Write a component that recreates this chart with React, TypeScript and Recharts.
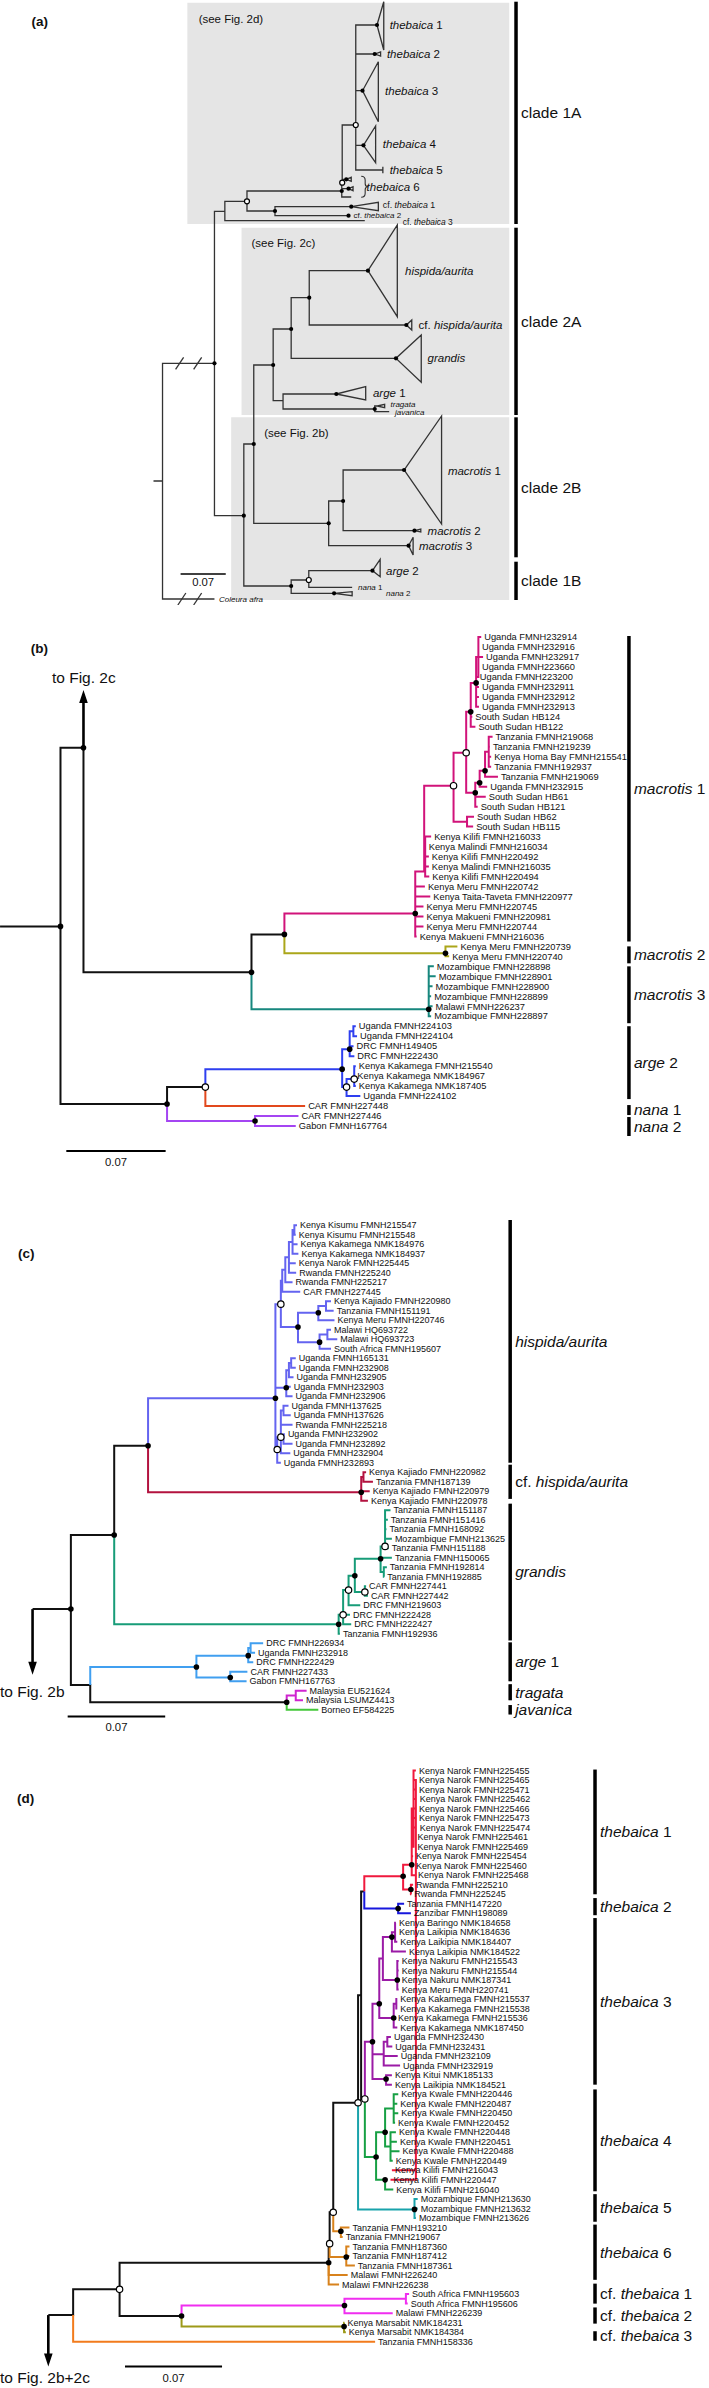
import React from "react";
import { ScatterChart, Scatter, XAxis, YAxis, ReferenceLine, ReferenceArea } from "recharts";

type NodeRow = [string, string, number, number | null, string];
type CladeRow = [string, string, string, number, number];

const FONT = '"Liberation Sans", Arial, Helvetica, sans-serif';

// ---------------- (a) overview ----------------
const aNodes: NodeRow[] = [
  ["s0", "", -0.014, 48.1, ""],
  ["r", "s0", 0, 48.1, ""],
  ["I", "r", 0.0805, 36.33, "f"],
  ["A1", "I", 0.0966, 21.13, ""],
  ["O547", "A1", 0.1309, 20.13, "o"],
  ["TH", "O547", 0.2778, 19.1, "f"],
  ["O758", "TH", 0.2785, 18.27, "o"],
  ["O788", "O758", 0.2995, 12.5, "o"],
  ["C609", "O547", 0.1743, 21.1, "f"],
  ["N540", "I", 0.126, 51.57, "f"],
  ["N562", "N540", 0.1414, 44.4, "f"],
  ["N605", "N562", 0.1715, 36.5, "f"],
  ["N645", "N605", 0.1994, 32.9, "f"],
  ["N685", "N645", 0.2274, 29.77, "f"],
  ["N627", "N605", 0.1868, 40.07, ""],
  ["TJ", "N627", 0.3289, 40.9, "f"],
  ["N728", "N562", 0.2575, 52.33, "f"],
  ["N760", "N728", 0.2799, 50.1, "f"],
  ["N645b", "N540", 0.1994, 58.6, "f"],
  ["O684", "N645b", 0.2267, 58.0, "o"],
];

// collapsed clades: name, parent, node x, node y, tip x, top, bottom, marker
const aClades: [string, string, number, number, number, number, number, string][] = [
  ["thebaica 1", "O788", 0.3324, 2.5, 0.3429, 0.17, 5.0, "f"],
  ["thebaica 2", "O788", 0.3289, 5.4, 0.338, 5.2, 5.6, "f"],
  ["thebaica 3", "O788", 0.31, 9.07, 0.3345, 6.17, 12.17, "f"],
  ["thebaica 4", "O788", 0.3114, 14.53, 0.3303, 12.6, 16.27, "f"],
  ["thebaica 5", "O788", 0.3415, 17.0, 0.3415, 16.67, 17.33, ""],
  ["thebaica 6a", "O758", 0.2848, 17.93, 0.2925, 17.73, 18.13, "f"],
  ["thebaica 6b", "TH", 0.2883, 18.87, 0.2953, 18.67, 19.07, "f"],
  ["thebaica 6c", "TH", 0.2925, 19.7, 0.2925, 19.7, 19.7, ""],
  ["cf. thebaica 1", "C609", 0.2925, 20.67, 0.3345, 20.23, 21.07, "f"],
  ["cf. thebaica 2", "C609", 0.2883, 21.57, 0.2883, 21.57, 21.57, "f"],
  ["cf. thebaica 3", "A1", 0.3135, 22.07, 0.3135, 22.07, 22.07, ""],
  ["hispida/aurita", "N685", 0.3184, 27.07, 0.3639, 22.5, 31.67, "f"],
  ["cf. hispida/aurita", "N685", 0.3779, 32.5, 0.3863, 32.0, 33.0, "f"],
  ["grandis", "N645", 0.3618, 35.83, 0.401, 33.5, 38.23, "f"],
  ["arge 1", "N627", 0.2694, 39.4, 0.3149, 38.67, 40.0, "f"],
  ["tragata", "TJ", 0.3329, 40.6, 0.3443, 40.43, 40.77, ""],
  ["javanica", "TJ", 0.3513, 41.17, 0.3513, 41.17, 41.17, ""],
  ["macrotis 1", "N760", 0.3744, 47.0, 0.4325, 41.6, 52.4, "f"],
  ["macrotis 2", "N760", 0.3905, 53.07, 0.4003, 52.9, 53.2, "f"],
  ["macrotis 3", "N728", 0.3814, 54.57, 0.3884, 53.73, 55.5, "f"],
  ["arge 2", "O684", 0.3254, 57.07, 0.3373, 55.93, 57.67, "f"],
  ["nana 1", "O684", 0.2939, 58.73, 0.2939, 58.73, 58.73, ""],
  ["nana 2", "N645b", 0.2659, 59.33, 0.2939, 59.17, 59.57, "f"],
  ["Coleura afra", "r", 0.0805, 59.9, 0.0805, 59.9, 59.9, ""],
];

const aGroups: [string, number, number][] = [
  ["clade 1A", 0.17, 22.4],
  ["clade 2A", 22.77, 41.5],
  ["clade 2B", 41.73, 55.73],
  ["clade 1B", 56.17, 60.0],
];

const aBoxes: [number, number, number, number][] = [
  [0.0385, 0.5374, 0.27, 22.4],
  [0.1225, 0.5374, 22.77, 41.5],
  [0.1064, 0.5374, 41.73, 60.0],
];

// ---------------- (b) macrotis / arge 2 / nana ----------------
const bLeafNames = [
  "Uganda FMNH232914", "Uganda FMNH232916", "Uganda FMNH232917", "Uganda FMNH223660", "Uganda FMNH223200",
  "Uganda FMNH232911", "Uganda FMNH232912", "Uganda FMNH232913", "South Sudan HB124", "South Sudan HB122",
  "Tanzania FMNH219068", "Tanzania FMNH219239", "Kenya Homa Bay FMNH215541", "Tanzania FMNH192937", "Tanzania FMNH219069",
  "Uganda FMNH232915", "South Sudan HB61", "South Sudan HB121", "South Sudan HB62", "South Sudan HB115",
  "Kenya Kilifi FMNH216033", "Kenya Malindi FMNH216034", "Kenya Kilifi FMNH220492", "Kenya Malindi FMNH216035",
  "Kenya Kilifi FMNH220494", "Kenya Meru FMNH220742", "Kenya Taita-Taveta FMNH220977", "Kenya Meru FMNH220745",
  "Kenya Makueni FMNH220981", "Kenya Meru FMNH220744", "Kenya Makueni FMNH216036",
  "Kenya Meru FMNH220739", "Kenya Meru FMNH220740",
  "Mozambique FMNH228898", "Mozambique FMNH228901", "Mozambique FMNH228900", "Mozambique FMNH228899",
  "Malawi FMNH226237", "Mozambique FMNH228897",
  "Uganda FMNH224103", "Uganda FMNH224104", "DRC FMNH149405", "DRC FMNH222430", "Kenya Kakamega FMNH215540",
  "Kenya Kakamega NMK184967", "Kenya Kakamega NMK187405", "Uganda FMNH224102",
  "CAR FMNH227448", "CAR FMNH227446", "Gabon FMNH167764",
];
const bLeafTips = [
  0.2965, 0.2949, 0.2978, 0.2949, 0.2934, 0.2949, 0.2949, 0.2949, 0.2902, 0.2924,
  0.3045, 0.3026, 0.3035, 0.3035, 0.3083, 0.3007, 0.2997, 0.294, 0.2914, 0.2908,
  0.2612, 0.2574, 0.2596, 0.2596, 0.2599, 0.2568, 0.2606, 0.2558, 0.2558, 0.2558, 0.251,
  0.2797, 0.2739,
  0.2631, 0.2644, 0.2622, 0.2612, 0.2622, 0.2612,
  0.2081, 0.209, 0.2065, 0.2071, 0.2081, 0.2071, 0.2081, 0.2113,
  0.1724, 0.1677, 0.1658,
];
const bLeafParents = [
  "V1", "V1", "V1", "V1", "V1", "V", "V", "V", "U", "U",
  "T3", "T3", "T3", "T3", "T2", "T1", "T", "T", "Q2", "Q2",
  "B1", "B1", "B1", "B1", "B1", "mac1", "mac1", "mac1", "mac1", "mac1", "mac1",
  "mac2", "mac2",
  "mac3", "mac3", "mac3", "mac3", "mac3", "mac3",
  "a2A1", "a2A1", "a2A", "a2A", "a2C", "a2C", "a2C", "a2B",
  "N1", "nana2", "nana2",
];
const bNodes: NodeRow[] = [
  ["s0", "", -0.0426, 29.0, ""],
  ["r", "s0", 0, 29.0, "f"],
  ["A", "r", 0.0162, 11.1, "f"],
  ["M", "A", 0.1346, 33.6, "f"],
  ["M1", "M", 0.1578, 29.8, "f"],
  ["mac1", "M1", 0.25, 27.7, "f"],
  ["A1", "mac1", 0.2563, 23.5, ""],
  ["Q", "A1", 0.277, 14.9, "o"],
  ["Q1", "Q", 0.2859, 11.6, "o"],
  ["U", "Q1", 0.2891, 7.5, "f"],
  ["V", "U", 0.2929, 4.6, "f"],
  ["V1", "V", 0.2945, null, ""],
  ["T", "Q1", 0.2923, 15.6, "f"],
  ["T1", "T", 0.2954, 14.6, "f"],
  ["T2", "T1", 0.2992, 13.4, "f"],
  ["T3", "T2", 0.3018, null, ""],
  ["Q2", "Q", 0.2865, null, ""],
  ["B1", "A1", 0.257, null, ""],
  ["mac2", "M1", 0.2713, 31.7, "f"],
  ["mac3", "M", 0.2595, 37.3, "f"],
  ["N", "r", 0.0751, 46.8, "f"],
  ["N1", "N", 0.1021, 45.1, "o"],
  ["arg2", "N1", 0.1985, 43.3, "f"],
  ["a2A", "arg2", 0.2038, 41.3, "f"],
  ["a2A1", "a2A", 0.2064, null, ""],
  ["a2B", "arg2", 0.2016, 45.1, "o"],
  ["a2C", "a2B", 0.207, 44.3, "o"],
  ["nana2", "N", 0.1371, 48.5, "f"],
];
const bColors: Record<string, string> = {
  mac1: "#d1137a", mac2: "#aba61a", mac3: "#17877e", arg2: "#2e3ff0", L47: "#e2481d", nana2: "#a445f2",
};
const bClades: CladeRow[] = [
  ["", "macrotis", " 1", -0.1, 30.5],
  ["", "macrotis", " 2", 31.0, 32.7],
  ["", "macrotis", " 3", 33.0, 38.7],
  ["", "arge", " 2", 39.0, 46.3],
  ["", "nana", " 1", 46.9, 47.9],
  ["", "nana", " 2", 48.1, 50.0],
];

// ---------------- (c) hispida / grandis / arge 1 ----------------
const cLeafNames = [
  "Kenya Kisumu FMNH215547", "Kenya Kisumu FMNH215548", "Kenya Kakamega NMK184976", "Kenya Kakamega NMK184937",
  "Kenya Narok FMNH225445", "Rwanda FMNH225240", "Rwanda FMNH225217", "CAR FMNH227445",
  "Kenya Kajiado FMNH220980", "Tanzania FMNH151191", "Kenya Meru FMNH220746", "Malawi HQ693722", "Malawi HQ693723",
  "South Africa FMNH195607",
  "Uganda FMNH165131", "Uganda FMNH232908", "Uganda FMNH232905", "Uganda FMNH232903", "Uganda FMNH232906",
  "Uganda FMNH137625", "Uganda FMNH137626", "Rwanda FMNH225218", "Uganda FMNH232902", "Uganda FMNH232892",
  "Uganda FMNH232904", "Uganda FMNH232893",
  "Kenya Kajiado FMNH220982", "Tanzania FMNH187139", "Kenya Kajiado FMNH220979", "Kenya Kajiado FMNH220978",
  "Tanzania FMNH151187", "Tanzania FMNH151416", "Tanzania FMNH168092", "Mozambique FMNH213625", "Tanzania FMNH151188",
  "Tanzania FMNH150065", "Tanzania FMNH192814", "Tanzania FMNH192885", "CAR FMNH227441", "CAR FMNH227442",
  "DRC FMNH219603", "DRC FMNH222428", "DRC FMNH222427", "Tanzania FMNH192936",
  "DRC FMNH226934", "Uganda FMNH232918", "DRC FMNH222429", "CAR FMNH227433", "Gabon FMNH167763",
  "Malaysia EU521624", "Malaysia LSUMZ4413", "Borneo EF584225",
];
const cLeafTips = [
  0.1623, 0.1614, 0.1627, 0.1633, 0.1614, 0.1617, 0.1591, 0.1646,
  0.1867, 0.1886, 0.1892, 0.1867, 0.1912, 0.1867,
  0.1614, 0.1614, 0.1598, 0.1578, 0.1591, 0.1562, 0.1578, 0.1591, 0.1536, 0.1591, 0.1575, 0.1507,
  0.2119, 0.2168, 0.2145, 0.2132,
  0.2294, 0.2275, 0.2265, 0.2304, 0.2281, 0.2304, 0.2268, 0.2249, 0.2119, 0.2132, 0.2077, 0.2003, 0.2012, 0.1931,
  0.138, 0.1322, 0.1309, 0.1267, 0.1261,
  0.1692, 0.1666, 0.1776,
];
const cLeafParents = [
  "K4", "K4", "K3", "K3", "K2", "K2", "K1", "K",
  "N1a", "N1a", "N1", "N2a", "N2a", "N2",
  "Ug2", "Ug2", "Ug1", "Ug", "Ug", "O3a", "O3a", "O3", "O3b", "O3b", "O3", "O2",
  "HC1", "HC1", "HC", "HC",
  "O853", "O853", "O853", "O853", "O853", "F843", "N850", "N850", "O808", "O808", "O772", "O760", "O760", "GR",
  "A1a1", "A1a1", "A1a", "A1b", "A1b",
  "TR", "TR", "TJ",
];
const cNodes: NodeRow[] = [
  ["s0", "", -0.0275, 40.4, ""],
  ["r", "s0", 0, 40.4, "f"],
  ["G", "r", 0.0311, 32.6, "f"],
  ["H", "G", 0.0554, 23.2, "f"],
  ["HA", "H", 0.1468, 18.2, "f"],
  ["O1", "HA", 0.1507, 8.3, "o"],
  ["K", "O1", 0.1517, null, ""],
  ["K1", "K", 0.1539, null, ""],
  ["K2", "K1", 0.1565, null, ""],
  ["K3", "K2", 0.1591, null, ""],
  ["K4", "K3", 0.1604, null, ""],
  ["Nn", "O1", 0.163, 10.7, "f"],
  ["N1", "Nn", 0.1776, 9.2, "f"],
  ["N1a", "N1", 0.1831, null, ""],
  ["N2", "Nn", 0.1785, 12.3, "f"],
  ["N2a", "N2", 0.1841, null, ""],
  ["Ug", "HA", 0.1546, 17.1, "f"],
  ["Ug1", "Ug", 0.1565, null, ""],
  ["Ug2", "Ug1", 0.1581, null, ""],
  ["O2", "HA", 0.1481, 23.6, "o"],
  ["O3", "O2", 0.1507, 22.3, "o"],
  ["O3a", "O3", 0.1526, null, ""],
  ["O3b", "O3", 0.1526, null, ""],
  ["HC", "H", 0.2084, 28.1, "f"],
  ["HC1", "HC", 0.21, null, ""],
  ["GR", "G", 0.1922, 42.0, "f"],
  ["O760", "GR", 0.1954, 41.0, "o"],
  ["O772", "O760", 0.1993, 38.4, "o"],
  ["F786", "O772", 0.2038, 36.9, "f"],
  ["F843", "F786", 0.2223, 35.1, "f"],
  ["O853", "F843", 0.2255, 33.8, "o"],
  ["N850", "F843", 0.2246, null, ""],
  ["O808", "F786", 0.211, 38.6, "o"],
  ["S", "r", 0.0139, 48.4, ""],
  ["A1c", "S", 0.0901, 46.5, "f"],
  ["A1a", "A1c", 0.1273, 45.3, "f"],
  ["A1a1", "A1a", 0.129, null, ""],
  ["A1b", "A1c", 0.1144, 47.6, "f"],
  ["TJ", "S", 0.1549, 50.2, "f"],
  ["TR", "TJ", 0.1614, null, ""],
];
const cColors: Record<string, string> = {
  HA: "#6464f0", HC: "#b3123f", GR: "#179c78", A1c: "#409ff0", TR: "#d024d0", L51: "#44c83a",
};
const cClades: CladeRow[] = [
  ["", "hispida/aurita", "", -0.56, 24.99],
  ["cf. ", "hispida/aurita", "", 25.2, 28.8],
  ["", "grandis", "", 29.3, 43.7],
  ["", "arge", " 1", 43.9, 48.0],
  ["", "tragata", "", 48.3, 50.0],
  ["", "javanica", "", 50.5, 51.5],
];

// ---------------- (d) thebaica ----------------
const dLeafNames = [
  "Kenya Narok FMNH225455", "Kenya Narok FMNH225465", "Kenya Narok FMNH225471", "Kenya Narok FMNH225462",
  "Kenya Narok FMNH225466", "Kenya Narok FMNH225473", "Kenya Narok FMNH225474", "Kenya Narok FMNH225461",
  "Kenya Narok FMNH225469", "Kenya Narok FMNH225454", "Kenya Narok FMNH225460", "Kenya Narok FMNH225468",
  "Rwanda FMNH225210", "Rwanda FMNH225245",
  "Tanzania FMNH147220", "Zanzibar FMNH198089",
  "Kenya Baringo NMK184658", "Kenya Laikipia NMK184636", "Kenya Laikipia NMK184407", "Kenya Laikipia NMK184522",
  "Kenya Nakuru FMNH215543", "Kenya Nakuru FMNH215544", "Kenya Nakuru NMK187341", "Kenya Meru FMNH220741",
  "Kenya Kakamega FMNH215537", "Kenya Kakamega FMNH215538", "Kenya Kakamega FMNH215536", "Kenya Kakamega NMK187450",
  "Uganda FMNH232430", "Uganda FMNH232431", "Uganda FMNH232109", "Uganda FMNH232919",
  "Kenya Kitui NMK185133", "Kenya Laikipia NMK184521",
  "Kenya Kwale FMNH220446", "Kenya Kwale FMNH220487", "Kenya Kwale FMNH220450", "Kenya Kwale FMNH220452",
  "Kenya Kwale FMNH220448", "Kenya Kwale FMNH220451", "Kenya Kwale FMNH220488", "Kenya Kwale FMNH220449",
  "Kenya Kilifi FMNH216043", "Kenya Kilifi FMNH220447", "Kenya Kilifi FMNH216040",
  "Mozambique FMNH213630", "Mozambique FMNH213632", "Mozambique FMNH213626",
  "Tanzania FMNH193210", "Tanzania FMNH219067", "Tanzania FMNH187360", "Tanzania FMNH187412", "Tanzania FMNH187361",
  "Malawi FMNH226240", "Malawi FMNH226238",
  "South Africa FMNH195603", "South Africa FMNH195606", "Malawi FMNH226239",
  "Kenya Marsabit NMK184231", "Kenya Marsabit NMK184384",
  "Tanzania FMNH158336",
];
const dLeafTips = [
  0.2472, 0.2472, 0.2472, 0.2478, 0.2472, 0.2472, 0.2478, 0.2462, 0.2462, 0.2452, 0.2452, 0.2465, 0.2452, 0.2439,
  0.2387, 0.2436,
  0.2328, 0.2328, 0.2338, 0.24, 0.2348, 0.2348, 0.2348, 0.2348, 0.2338, 0.2338, 0.2322, 0.2338,
  0.2292, 0.2302, 0.2341, 0.2358, 0.2299, 0.2299,
  0.2345, 0.2338, 0.2345, 0.2322, 0.2328, 0.2335, 0.2354, 0.2305, 0.2299, 0.2289, 0.2309,
  0.2485, 0.2485, 0.2472,
  0.1993, 0.1944, 0.1993, 0.1993, 0.2032, 0.198, 0.1918,
  0.2423, 0.2413, 0.2305,
  0.1957, 0.1967,
  0.2178,
];
const dLeafParents = [
  "th1b", "th1b", "th1b", "th1b", "th1b", "th1b", "th1b", "th1b", "th1b", "th1a", "th1a", "th1a", "th1c", "th1c",
  "th2", "th2",
  "N875", "N875", "N875", "N868", "N880", "N880", "N880", "N880", "N878", "N878", "N872", "N872",
  "Ug1", "Ug1", "Ug", "Ug", "D855", "D855",
  "G1", "G1", "G1", "G1", "G2", "G2", "G2", "G2", "L1", "L1", "L853",
  "th5", "th5", "th5",
  "n755", "n755", "n767", "n767", "n767", "N1", "N1",
  "cf1a", "cf1a", "cf1",
  "cf2", "cf2",
  "r",
];
const dNodes: NodeRow[] = [
  ["s0", "", -0.0179, 57.2, ""],
  ["r", "s0", 0, 57.2, ""],
  ["T", "r", 0.0335, 54.5, "o"],
  ["N1", "T", 0.1843, 51.7, "f"],
  ["O730", "N1", 0.185, 49.7, "o"],
  ["O738", "O730", 0.1876, 46.4, "o"],
  ["O793", "O738", 0.2055, 34.9, "o"],
  ["P800", "O793", 0.2077, null, ""],
  ["T12", "P800", 0.21, 12.7, ""],
  ["th1", "T12", 0.238, 11.1, "f"],
  ["th1a", "th1", 0.2442, 9.9, "f"],
  ["th1b", "th1a", 0.2455, null, ""],
  ["th1c", "th1", 0.2436, 12.5, "f"],
  ["th2", "T12", 0.2344, 14.5, "f"],
  ["O808", "P800", 0.2104, 34.5, "o"],
  ["A825", "O808", 0.2159, 28.5, "f"],
  ["B840", "A825", 0.2208, 24.5, "f"],
  ["E848", "B840", 0.2234, null, ""],
  ["N868", "E848", 0.2299, 17.5, "f"],
  ["N875", "N868", 0.2322, null, ""],
  ["N880", "E848", 0.2338, 22.0, "f"],
  ["N872", "B840", 0.2312, 26.0, "f"],
  ["N878", "N872", 0.2331, null, ""],
  ["Ug", "A825", 0.224, 29.8, ""],
  ["Ug1", "Ug", 0.2266, null, ""],
  ["D855", "A825", 0.2257, 32.4, "f"],
  ["th4", "O808", 0.2185, 40.6, "f"],
  ["K853", "th4", 0.225, 38.0, "f"],
  ["G1", "K853", 0.2312, null, ""],
  ["G2", "K853", 0.2289, null, ""],
  ["L853", "th4", 0.225, 43.0, "f"],
  ["L1", "L853", 0.2279, null, ""],
  ["th5", "O793", 0.2462, 46.1, "f"],
  ["n755", "O738", 0.1931, 48.4, "f"],
  ["n767", "O730", 0.197, 51.1, "f"],
  ["CF", "T", 0.0782, 57.3, "f"],
  ["cf1", "CF", 0.1957, 56.2, "f"],
  ["cf1a", "cf1", 0.24, null, ""],
  ["cf2", "CF", 0.1954, 58.4, "f"],
];
const dColors: Record<string, string> = {
  th1: "#f0193d", th2: "#1717dd", A825: "#9b1ba6", th4: "#17a044", th5: "#1aa3ab",
  n755: "#d8821c", n767: "#d8821c", L53: "#d8821c", L54: "#d8821c",
  cf1: "#f02ef0", cf2: "#9d9a19", L60: "#f27b1c",
};
const dClades: CladeRow[] = [
  ["", "thebaica", " 1", -0.1, 13.0],
  ["", "thebaica", " 2", 13.4, 15.2],
  ["", "thebaica", " 3", 15.5, 33.0],
  ["", "thebaica", " 4", 33.5, 44.2],
  ["", "thebaica", " 5", 44.5, 47.4],
  ["", "thebaica", " 6", 47.7, 53.5],
  ["cf. ", "thebaica", " 1", 53.9, 56.0],
  ["cf. ", "thebaica", " 2", 56.4, 58.1],
  ["cf. ", "thebaica", " 3", 58.9, 59.9],
];

// ---------------- helpers ----------------
type TNode = { id: string; parent: string; x: number; y: number; mark: string; kids: string[] };
type P = { x: number; y: number };

function buildTree(nodes: NodeRow[], tips: number[], parents: string[]) {
  const m: Record<string, TNode> = {};
  nodes.forEach(([id, parent, x, y, mark]) => {
    m[id] = { id, parent, x, y: y == null ? NaN : y, mark, kids: [] };
  });
  tips.forEach((t, i) => {
    m["L" + i] = { id: "L" + i, parent: parents[i], x: t, y: i, mark: "", kids: [] };
  });
  Object.values(m).forEach((n) => {
    if (m[n.parent]) m[n.parent].kids.push(n.id);
  });
  const fixY = (id: string): number => {
    const n = m[id];
    if (Number.isNaN(n.y)) {
      const ys = n.kids.map(fixY);
      n.y = (Math.min(...ys) + Math.max(...ys)) / 2;
    }
    return n.y;
  };
  Object.keys(m).forEach(fixY);
  return m;
}

// walk the tree and turn each coloured subtree into one polyline
function treeLines(m: Record<string, TNode>, colors: Record<string, string>, base: string, tris: Record<string, any> = {}) {
  const colorOf = (id: string): string =>
    colors[id] || (m[m[id].parent] ? colorOf(m[id].parent) : base);
  const lines: { c: string; pts: P[] }[] = [];
  const walk = (id: string, pts: P[]) => {
    const n = m[id];
    for (const k of n.kids) {
      const ch = m[k];
      const same = colorOf(k) === colorOf(id);
      const path = same ? pts : [{ x: n.x, y: n.y }];
      if (!same) lines.push({ c: colorOf(k), pts: path });
      path.push({ x: n.x, y: ch.y }, { x: ch.x, y: ch.y });
      const t = tris[k];
      if (t) path.push({ x: t.tip, y: t.top }, { x: t.tip, y: t.bot }, { x: ch.x, y: ch.y });
      walk(k, path);
      path.push({ x: n.x, y: ch.y }, { x: n.x, y: n.y });
    }
  };
  Object.values(m)
    .filter((n) => !m[n.parent])
    .forEach((r) => {
      const pts = [{ x: r.x, y: r.y }];
      lines.push({ c: colorOf(r.id), pts });
      walk(r.id, pts);
    });
  // drop repeated points so the path has no zero-length pieces
  return lines.map((l) => ({
    c: l.c,
    pts: l.pts.filter((p, i) => i === 0 || p.x !== l.pts[i - 1].x || p.y !== l.pts[i - 1].y),
  }));
}

const parts = (pre: string, it: string, suf: string): [string, boolean][] => [
  [pre, false],
  [it, true],
  [suf, false],
];

function cladeStuff(rows: CladeRow[], x: number, fs: number) {
  return {
    bars: rows.map((r) => ({ x1: x, x2: x, y1: r[3], y2: r[4], w: 3.5 })),
    texts: rows.map((r) => ({ x, y: (r[3] + r[4]) / 2, parts: parts(r[0], r[1], r[2]), fs, dx: 5 })),
  };
}

// ---------------- shapes ----------------
const Empty = () => <g />;

const dotShape = (r: number) => (p: any) =>
  p.payload.mark === "o" ? (
    <circle cx={p.cx} cy={p.cy} r={r + 0.4} fill="#fff" stroke="#000" strokeWidth={1.2} />
  ) : (
    <circle cx={p.cx} cy={p.cy} r={r} fill="#000" />
  );

const TextShape = (p: any) => {
  const d = p.payload;
  return (
    <text
      x={p.cx + (d.dx || 0)}
      y={p.cy}
      dy="0.35em"
      fontSize={d.fs}
      fontFamily={FONT}
      fontWeight={d.bold ? 700 : 400}
      textAnchor={d.anchor || "start"}
      fill="#111"
      style={{ whiteSpace: "pre" }}
    >
      {d.parts.map((pt: [string, boolean], i: number) => (
        <tspan key={i} fontStyle={pt[1] ? "italic" : "normal"}>
          {pt[0]}
        </tspan>
      ))}
    </text>
  );
};

const HeadShape = (p: any) => {
  const s = p.payload.dir === "up" ? 1 : -1;
  const { cx, cy } = p;
  return <polygon points={`${cx},${cy} ${cx - 4.3},${cy + 13 * s} ${cx + 4.3},${cy + 13 * s}`} fill="#000" />;
};

const SlashShape = (p: any) => (
  <line x1={p.cx - 5} y1={p.cy + 6} x2={p.cx + 3} y2={p.cy - 6} stroke="#333" strokeWidth={1.3} />
);

const BraceShape = (p: any) => {
  const { cx, cy } = p;
  const h = 10.5;
  const d = `M${cx} ${cy - h} Q${cx + 4} ${cy - h} ${cx + 4} ${cy - h + 4} L${cx + 4} ${cy - 3} Q${cx + 4} ${cy} ${cx + 7} ${cy} Q${cx + 4} ${cy} ${cx + 4} ${cy + 3} L${cx + 4} ${cy + h - 4} Q${cx + 4} ${cy + h} ${cx} ${cy + h}`;
  return <path d={d} fill="none" stroke="#333" strokeWidth={1.1} />;
};

// ---------------- panel config ----------------
function makeLeafPanel(
  names: string[], tips: number[], parents: string[], nodes: NodeRow[],
  colors: Record<string, string>, clades: CladeRow[], barX: number, leafFs: number
) {
  const m = buildTree(nodes, tips, parents);
  const cs = cladeStuff(clades, barX, 15.5);
  return {
    lines: treeLines(m, colors, "#111"),
    dots: Object.values(m).filter((n) => n.mark).map((n) => ({ x: n.x, y: n.y, mark: n.mark })),
    leaves: names.map((nm, i) => ({ x: tips[i], y: i, parts: [[nm, false]], fs: leafFs, dx: 3 })),
    bars: cs.bars,
    cladeTexts: cs.texts,
  };
}

const bPanel = makeLeafPanel(bLeafNames, bLeafTips, bLeafParents, bNodes, bColors, bClades, 0.4006, 9.3);
const cPanel = makeLeafPanel(cLeafNames, cLeafTips, cLeafParents, cNodes, cColors, cClades, 0.3153, 9);
const dPanel = makeLeafPanel(dLeafNames, dLeafTips, dLeafParents, dNodes, dColors, dClades, 0.3764, 9);

const aMap = buildTree(
  [...aNodes, ...aClades.map((c, i) => ["C" + i, c[1], c[2], c[3], c[7]] as NodeRow)],
  [],
  []
);
const aTris: Record<string, any> = {};
aClades.forEach((c, i) => {
  if (c[4] !== c[2] || c[5] !== c[6]) aTris["C" + i] = { tip: c[4], top: c[5], bot: c[6] };
});
const aLines = treeLines(aMap, {}, "#333", aTris);
const aDots = Object.values(aMap).filter((n) => n.mark).map((n) => ({ x: n.x, y: n.y, mark: n.mark }));

// text annotations for (a)
const aTexts = [
  { x: -0.2029, y: 2.1, parts: [["(a)", false]], fs: 13.5, bold: true },
  { x: 0.056, y: 1.9, parts: [["(see Fig. 2d)", false]], fs: 11.5 },
  { x: 0.1379, y: 24.3, parts: [["(see Fig. 2c)", false]], fs: 11.5 },
  { x: 0.1575, y: 43.3, parts: [["(see Fig. 2b)", false]], fs: 11.5 },
  { x: 0.352, y: 2.5, parts: parts("", "thebaica", " 1"), fs: 11.5 },
  { x: 0.3478, y: 5.4, parts: parts("", "thebaica", " 2"), fs: 11.5 },
  { x: 0.345, y: 9.1, parts: parts("", "thebaica", " 3"), fs: 11.5 },
  { x: 0.3415, y: 14.4, parts: parts("", "thebaica", " 4"), fs: 11.5 },
  { x: 0.352, y: 17.0, parts: parts("", "thebaica", " 5"), fs: 11.5 },
  { x: 0.3163, y: 18.67, parts: parts("", "thebaica", " 6"), fs: 11.5 },
  { x: 0.3415, y: 20.45, parts: parts("cf. ", "thebaica", " 1"), fs: 8.8 },
  { x: 0.296, y: 21.5, parts: parts("cf. ", "thebaica", " 2"), fs: 8 },
  { x: 0.3725, y: 22.2, parts: parts("cf. ", "thebaica", " 3"), fs: 8.4 },
  { x: 0.3758, y: 27.07, parts: parts("", "hispida/aurita", ""), fs: 11.5 },
  { x: 0.3968, y: 32.5, parts: parts("cf. ", "hispida/aurita", ""), fs: 11.5 },
  { x: 0.4108, y: 35.83, parts: parts("", "grandis", ""), fs: 11.5 },
  { x: 0.3261, y: 39.3, parts: parts("", "arge", " 1"), fs: 11.5 },
  { x: 0.3534, y: 40.43, parts: parts("", "tragata", ""), fs: 8 },
  { x: 0.3604, y: 41.23, parts: parts("", "javanica", ""), fs: 8 },
  { x: 0.4423, y: 47.1, parts: parts("", "macrotis", " 1"), fs: 11.5 },
  { x: 0.4108, y: 53.07, parts: parts("", "macrotis", " 2"), fs: 11.5 },
  { x: 0.3975, y: 54.6, parts: parts("", "macrotis", " 3"), fs: 11.5 },
  { x: 0.3464, y: 57.1, parts: parts("", "arge", " 2"), fs: 11.5 },
  { x: 0.303, y: 58.73, parts: parts("", "nana", " 1"), fs: 8 },
  { x: 0.3464, y: 59.33, parts: parts("", "nana", " 2"), fs: 8 },
  { x: 0.0875, y: 59.9, parts: parts("", "Coleura afra", ""), fs: 8 },
  { x: 0.063, y: 58.2, parts: [["0.07", false]], fs: 11.3, anchor: "middle" },
  ...aGroups.map((g) => ({ x: 0.5479, y: (g[1] + g[2]) / 2, parts: [[g[0], false]], fs: 15.5, dx: 5 })),
];

const ZERO = { top: 0, right: 0, bottom: 0, left: 0 };

function Panel(props: any) {
  const { h, xd, yd, lines, lw, dots, r, texts, bars, areas = [], heads = [], slashes = [], braces = [], lineColor = "#000" } = props;
  return (
    <ScatterChart width={709} height={h} margin={ZERO}>
      <XAxis type="number" dataKey="x" domain={xd} hide allowDataOverflow />
      <YAxis type="number" dataKey="y" domain={yd} hide reversed allowDataOverflow />
      {areas.map((a: number[], i: number) => (
        <ReferenceArea key={"a" + i} x1={a[0]} x2={a[1]} y1={a[2]} y2={a[3]} fill="#e5e5e5" fillOpacity={1} stroke="none" ifOverflow="visible" />
      ))}
      {bars.map((b: any, i: number) => (
        <ReferenceLine
          key={"b" + i}
          segment={[{ x: b.x1, y: b.y1 }, { x: b.x2, y: b.y2 }]}
          stroke={b.c || lineColor}
          strokeWidth={b.w}
          ifOverflow="visible"
        />
      ))}
      {lines.map((l: any, i: number) => (
        <Scatter
          key={"l" + i}
          data={l.pts}
          fill={l.c}
          line={{ stroke: l.c, strokeWidth: lw, strokeLinejoin: "miter" }}
          lineType="joint"
          shape={Empty}
          legendType="none"
          isAnimationActive={false}
        />
      ))}
      {slashes.length > 0 && <Scatter data={slashes} shape={SlashShape} isAnimationActive={false} />}
      {braces.length > 0 && <Scatter data={braces} shape={BraceShape} isAnimationActive={false} />}
      {heads.length > 0 && <Scatter data={heads} shape={HeadShape} isAnimationActive={false} />}
      <Scatter data={dots} shape={dotShape(r)} isAnimationActive={false} />
      <Scatter data={texts} shape={TextShape} isAnimationActive={false} />
    </ScatterChart>
  );
}

export default function App() {
  return (
    <div style={{ position: "absolute", left: 0, top: 0, width: 709, height: 2388, background: "#fff" }}>
      <Panel
        h={605}
        xd={[-0.2519, 0.847]}
        yd={[0, 60.5]}
        lines={aLines}
        lw={1.3}
        dots={aDots}
        r={2.1}
        areas={aBoxes}
        bars={[
          ...aGroups.map((g) => ({ x1: 0.5479, x2: 0.5479, y1: g[1], y2: g[2], w: 3.5 })),
          { x1: 0.028, x2: 0.098, y1: 57.4, y2: 57.4, w: 1.5 },
        ]}
        texts={aTexts}
        slashes={[
          { x: 0.028, y: 36.33 },
          { x: 0.056, y: 36.33 },
          { x: 0.0315, y: 59.9 },
          { x: 0.056, y: 59.9 },
        ]}
        braces={[{ x: 0.3079, y: 18.67 }]}
      />
      <Panel
        h={565}
        xd={[-0.04263, 0.45702]}
        yd={[-3.206, 53.407]}
        lines={bPanel.lines}
        lw={2}
        dots={bPanel.dots}
        r={2.8}
        bars={[
          ...bPanel.bars,
          { x1: 0.0162, x2: 0.0162, y1: 11.1, y2: 6.5, w: 2.6 },
          { x1: 0.0041, x2: 0.0741, y1: 51.5, y2: 51.5, w: 2 },
        ]}
        heads={[{ x: 0.0162, y: 5.3, dir: "up" }]}
        texts={[
          ...bPanel.leaves,
          ...bPanel.cladeTexts,
          { x: -0.021, y: 1.1, parts: [["(b)", false]], fs: 13.5, bold: true },
          { x: -0.006, y: 4.1, parts: [["to Fig. 2c", false]], fs: 15.5 },
          { x: 0.0391, y: 52.6, parts: [["0.07", false]], fs: 11.3, anchor: "middle" },
        ]}
      />
      <Panel
        h={575}
        xd={[-0.05087, 0.458]}
        yd={[-5.821, 54.705]}
        lines={cPanel.lines}
        lw={2}
        dots={cPanel.dots}
        r={2.8}
        bars={[
          ...cPanel.bars,
          { x1: -0.0275, x2: -0.0275, y1: 40.4, y2: 46.0, w: 2.6 },
          { x1: -0.0023, x2: 0.0677, y1: 51.7, y2: 51.7, w: 2 },
        ]}
        heads={[{ x: -0.0275, y: 47.3, dir: "down" }]}
        texts={[
          ...cPanel.leaves,
          ...cPanel.cladeTexts,
          { x: -0.0379, y: 2.96, parts: [["(c)", false]], fs: 13.5, bold: true },
          { x: -0.0509, y: 49.1, parts: [["to Fig. 2b", false]], fs: 15.5 },
          { x: 0.0327, y: 52.8, parts: [["0.07", false]], fs: 11.3, anchor: "middle" },
        ]}
      />
      <Panel
        h={643}
        xd={[-0.05275, 0.45861]}
        yd={[-2.679, 64.863]}
        lines={dPanel.lines}
        lw={2}
        dots={dPanel.dots}
        r={2.8}
        bars={[
          ...dPanel.bars,
          { x1: -0.0179, x2: -0.0179, y1: 57.2, y2: 61.3, w: 2.6 },
          { x1: 0.0374, x2: 0.1074, y1: 62.6, y2: 62.6, w: 2 },
        ]}
        heads={[{ x: -0.0179, y: 62.6, dir: "down" }]}
        texts={[
          ...dPanel.leaves,
          ...dPanel.cladeTexts,
          { x: -0.0404, y: 2.9, parts: [["(d)", false]], fs: 13.5, bold: true },
          { x: -0.0528, y: 63.8, parts: [["to Fig. 2b+2c", false]], fs: 15.5 },
          { x: 0.0724, y: 63.8, parts: [["0.07", false]], fs: 11.3, anchor: "middle" },
        ]}
      />
    </div>
  );
}
